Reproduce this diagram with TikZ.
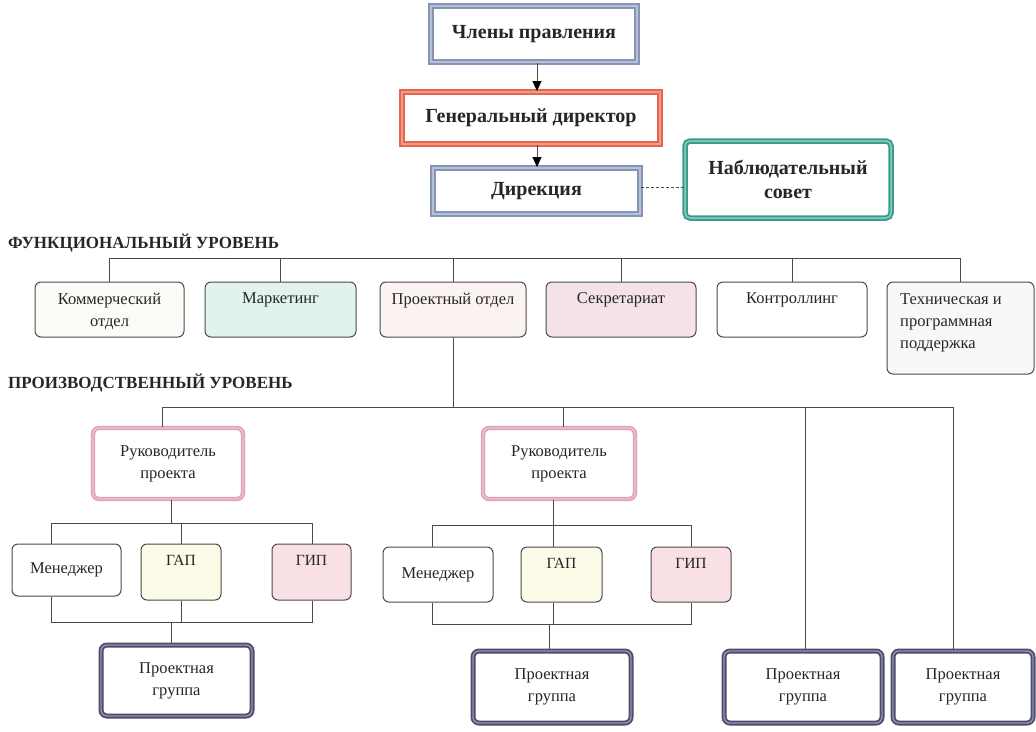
\documentclass[tikz,border=0pt]{standalone}
\usepackage{fontspec}
\setmainfont{Liberation Serif}
\usetikzlibrary{arrows.meta}
\definecolor{lnc}{HTML}{4A4A4A}
\definecolor{txc}{HTML}{262626}
\definecolor{bluo}{HTML}{8794B4}
\definecolor{blui}{HTML}{B6C0D8}
\definecolor{redo}{HTML}{E4664F}
\definecolor{redi}{HTML}{F29C88}
\definecolor{teao}{HTML}{3A9C8E}
\definecolor{teai}{HTML}{8CCABE}
\definecolor{pnko}{HTML}{E0A0AE}
\definecolor{pnki}{HTML}{F0C6D0}
\definecolor{pgo}{HTML}{4C4C6C}
\definecolor{pgi}{HTML}{9494B0}
\definecolor{fkom}{HTML}{FBFBF7}
\definecolor{fmar}{HTML}{E2F3EF}
\definecolor{fpro}{HTML}{FBF2F2}
\definecolor{fsek}{HTML}{F4E2E6}
\definecolor{fteh}{HTML}{F8F8F8}
\definecolor{fgap}{HTML}{FBFBE8}
\definecolor{fgip}{HTML}{F8E0E4}
\begin{document}
\begin{tikzpicture}[x=1pt,y=-1pt,
  every node/.style={text=txc},
  conn/.style={draw=lnc,line width=1pt},
  arr/.style={conn,-{Triangle[width=9pt,length=10pt,color=black]}},
  topbox/.style={double distance=1.5pt,line width=2pt,inner sep=0pt,
     font=\bfseries\fontsize{20}{24}\selectfont,align=center},
  bluebox/.style={topbox,draw=bluo,double=blui},
  funcbox/.style={draw=lnc,line width=1pt,rounded corners=6pt,inner sep=0pt},
  ftext/.style={inner sep=0pt,font=\fontsize{16.5}{22}\selectfont,align=center},
  smalltext/.style={inner sep=0pt,anchor=north,font=\fontsize{15.5}{18}\selectfont},
  rukbox/.style={draw=pnko,double=pnki,double distance=1.2pt,line width=1.6pt,
     rounded corners=6pt,inner sep=0pt,font=\fontsize{16.5}{22}\selectfont,align=center},
  pgbox/.style={draw=pgo,double=pgi,double distance=1.4pt,line width=1.8pt,
     rounded corners=6pt,inner sep=0pt,font=\fontsize{16.5}{22}\selectfont,align=center},
  head/.style={inner sep=0pt,anchor=base west,font=\bfseries\fontsize{17}{20}\selectfont},
]
\useasboundingbox (0,0) rectangle (1036,731);
% top
\node[bluebox,minimum width=206,minimum height=56] (chl) at (534,34) {Члены правления};
\node[topbox,draw=redo,double=redi,minimum width=258,minimum height=52] (gen) at (531,118) {Генеральный директор};
\node[bluebox,minimum width=207,minimum height=46] (dir) at (536.5,191) {Дирекция};
\node[topbox,draw=teao,double=teai,rounded corners=5pt,minimum width=206,minimum height=77] (nab) at (788,179.5) {Наблюдательный\\совет};
\draw[arr] (chl.south -| 537,0) -- (gen.north -| 537,0);
\draw[arr] (gen.south -| 537,0) -- (dir.north -| 537,0);
\draw[conn,dashed,dash pattern=on 3pt off 2pt,line width=0.8pt] (dir.east |- 0,187) -- (nab.west |- 0,187);
% functional level
\node[head] (hf) at (8,248) {ФУНКЦИОНАЛЬНЫЙ УРОВЕНЬ};
\node[funcbox,fill=fkom,minimum width=149,minimum height=55] (kom) at (109.5,309.5) {};
\node[funcbox,fill=fmar,minimum width=151,minimum height=55] (mar) at (280.5,309.5) {};
\node[funcbox,fill=fpro,minimum width=146,minimum height=55] (pro) at (453,309.5) {};
\node[funcbox,fill=fsek,minimum width=150,minimum height=55] (sek) at (621,309.5) {};
\node[funcbox,fill=white,minimum width=150,minimum height=55] (kon) at (792,309.5) {};
\node[funcbox,fill=fteh,minimum width=147,minimum height=92] (teh) at (960.5,328) {};
\node[ftext,anchor=north] (kom-t) at ([yshift=-11]kom.north) {Коммерческий\\отдел};
\node[ftext,anchor=north] (mar-t) at ([yshift=-11]mar.north) {Маркетинг};
\node[ftext,anchor=north] (pro-t) at ([yshift=-11]pro.north) {Проектный отдел};
\node[ftext,anchor=north] (sek-t) at ([yshift=-11]sek.north) {Секретариат};
\node[ftext,anchor=north] (kon-t) at ([yshift=-11]kon.north) {Контроллинг};
\node[ftext,align=left,anchor=north west] (teh-t) at (900,293) {Техническая и\\программная\\поддержка};
\coordinate (fb) at (0,258);
\draw[conn] (kom.north) -- (kom.north |- fb) -- (teh.north |- fb) -- (teh.north);
\foreach \n in {mar,pro,sek,kon} \draw[conn] (\n.north |- fb) -- (\n.north);
% production level
\node[head] (hp) at (8,388) {ПРОИЗВОДСТВЕННЫЙ УРОВЕНЬ};
\node[rukbox,minimum width=150,minimum height=71] (ruk1) at (168,463.5) {Руководитель\\проекта};
\node[rukbox,minimum width=152,minimum height=71] (ruk2) at (559,463.5) {Руководитель\\проекта};
\node[pgbox,minimum width=151,minimum height=71] (pg1) at (176.5,680.5) {Проектная\\группа};
\node[pgbox,minimum width=158,minimum height=72] (pg2) at (552,687) {Проектная\\группа};
\node[pgbox,minimum width=158,minimum height=72] (pg3) at (803,687) {Проектная\\группа};
\node[pgbox,minimum width=140,minimum height=72] (pg4) at (963,687) {Проектная\\группа};
\coordinate (pb) at (0,407);
\draw[conn] (pro.south) -- (pro.south |- pb);
\draw[conn] (162,0 |- ruk1.north) -- (162,0 |- pb) -- (953,0 |- pb) -- (953,0 |- pg4.north);
\draw[conn] (563,0 |- pb) -- (563,0 |- ruk2.north);
\draw[conn] (805,0 |- pb) -- (805,0 |- pg3.north);
% group 1
\node[funcbox,fill=white,minimum width=109,minimum height=52,font=\fontsize{16.5}{22}\selectfont] (men1) at (66.5,570) {Менеджер};
\node[funcbox,fill=fgap,minimum width=80,minimum height=56] (gap1) at (181,572) {};
\node[funcbox,fill=fgip,minimum width=79,minimum height=56] (gip1) at (311.5,572) {};
\node[smalltext] (gap1-t) at ([yshift=-12]gap1.north) {ГАП};
\node[smalltext] (gip1-t) at ([yshift=-12]gip1.north) {ГИП};
\coordinate (u1) at (0,523);
\coordinate (l1) at (0,622);
\draw[conn] (171,0 |- ruk1.south) -- (171,0 |- u1);
\draw[conn] (51,0 |- men1.north) -- (51,0 |- u1) -- (312,0 |- u1) -- (312,0 |- gip1.north);
\draw[conn] (gap1.north |- u1) -- (gap1.north);
\draw[conn] (51,0 |- men1.south) -- (51,0 |- l1) -- (312,0 |- l1) -- (312,0 |- gip1.south);
\draw[conn] (gap1.south) -- (gap1.south |- l1);
\draw[conn] (171,0 |- l1) -- (171,0 |- pg1.north);
% group 2
\node[funcbox,fill=white,minimum width=110,minimum height=55,font=\fontsize{16.5}{22}\selectfont] (men2) at (438,574.5) {Менеджер};
\node[funcbox,fill=fgap,minimum width=81,minimum height=55] (gap2) at (561.5,574.5) {};
\node[funcbox,fill=fgip,minimum width=80,minimum height=55] (gip2) at (691,574.5) {};
\node[smalltext] (gap2-t) at ([yshift=-12]gap2.north) {ГАП};
\node[smalltext] (gip2-t) at ([yshift=-12]gip2.north) {ГИП};
\coordinate (u2) at (0,525);
\coordinate (l2) at (0,624);
\draw[conn] (553,0 |- ruk2.south) -- (553,0 |- u2);
\draw[conn] (432,0 |- men2.north) -- (432,0 |- u2) -- (gip2.north |- u2) -- (gip2.north);
\draw[conn] (553,0 |- u2) -- (553,0 |- gap2.north);
\draw[conn] (432,0 |- men2.south) -- (432,0 |- l2) -- (gip2.south |- l2) -- (gip2.south);
\draw[conn] (553,0 |- gap2.south) -- (553,0 |- l2);
\draw[conn] (549,0 |- l2) -- (549,0 |- pg2.north);
\end{tikzpicture}
\end{document}
